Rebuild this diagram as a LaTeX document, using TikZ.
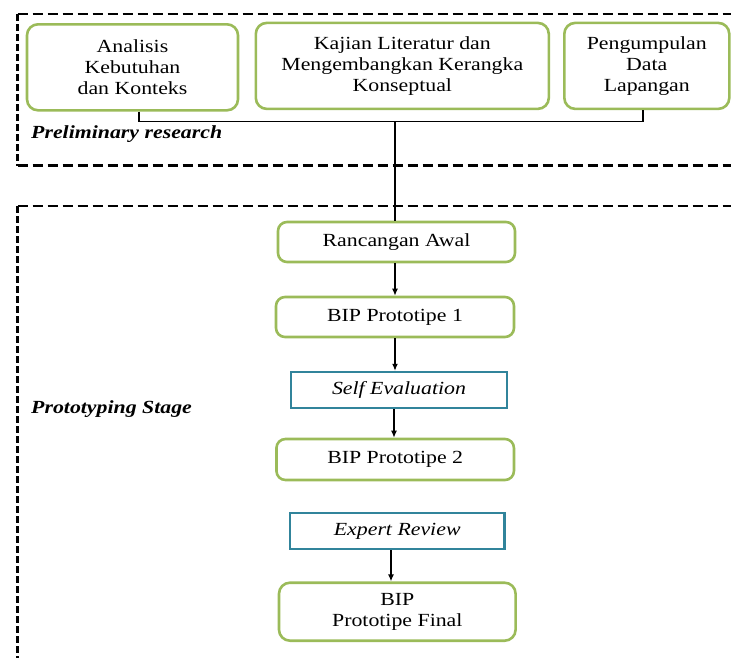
\documentclass[tikz,border=0pt]{standalone}
\usepackage{fontspec}
\setmainfont{Liberation Serif}[FakeStretch=1.18]
\usetikzlibrary{arrows.meta}
\definecolor{boxgreen}{HTML}{9BBB59}
\definecolor{boxblue}{HTML}{31849B}
\tikzset{
  txt/.style={font=\fontsize{18.5}{21.3}\selectfont, align=center, inner sep=0pt},
  gbox/.style={txt, draw=boxgreen, line width=2.6pt, rounded corners=11pt},
  bbox/.style={txt, draw=boxblue, line width=2.4pt, font=\fontsize{18.5}{21.3}\selectfont\itshape},
  label/.style={font=\fontsize{18.5}{21.3}\selectfont\bfseries\itshape, inner sep=0pt, anchor=west},
  conn/.style={line width=1.3pt, black},
  arr/.style={conn, -{Latex[length=7pt,width=6pt]}},
  frameh/.style={line width=2.6pt, dash pattern=on 10pt off 5pt},
  framev/.style={line width=2.6pt, dash pattern=on 6.5pt off 3.5pt},
}
\begin{document}
\begin{tikzpicture}[x=1pt,y=-1pt]
\useasboundingbox (0,0) rectangle (731,657);
\clip (0,0) rectangle (731,657);
% dashed frames
\draw[frameh] (17.5,14) -- (740,14);
\draw[frameh] (17.5,165.5) -- (740,165.5);
\draw[framev] (17.5,14) -- (17.5,165.5);
\draw[frameh] (17.7,206) -- (740,206);
\draw[framev] (17.7,206) -- (17.7,670);
% preliminary boxes
\node[gbox, minimum width=211pt, minimum height=86pt] (b1) at (132.5,67.3) {Analisis\\Kebutuhan\\dan Konteks};
\node[gbox, minimum width=293pt, minimum height=86pt] (b2) at (402.3,65.9) {Kajian Literatur dan\\Mengembangkan Kerangka\\Konseptual};
\node[gbox, minimum width=165pt, minimum height=86pt] (b3) at (646.8,65.9) {Pengumpulan\\Data\\Lapangan};
\node[label] (lp) at (31,134) {Preliminary research};
% prototyping stage
\node[gbox, minimum width=237pt, minimum height=40pt, rounded corners=9pt] (ra) at (396.5,242) {Rancangan Awal};
\node[gbox, minimum width=238pt, minimum height=40pt, rounded corners=9pt] (p1) at (395,317) {BIP Prototipe 1};
\node[bbox, minimum width=216pt, minimum height=36pt] (se) at (399,390) {Self Evaluation};
\node[gbox, minimum width=237.5pt, minimum height=41pt, rounded corners=9pt] (p2) at (395.2,459.5) {BIP Prototipe 2};
\node[bbox, minimum width=214.5pt, minimum height=36pt] (er) at (397.2,531) {Expert Review};
\node[gbox, minimum width=236.6pt, minimum height=58pt, rounded corners=11pt] (pf) at (397.3,611.7) {BIP\\Prototipe Final};
\node[label] (lps) at (31,409) {Prototyping Stage};
% bracket connector
\coordinate (bl) at (139,121.5);
\coordinate (br) at (643,121.5);
\coordinate (bm) at (395,121.5);
\draw[conn] (b1.south -| bl) -- (bl) -- (br) -- (b3.south -| br);
\draw[conn] (bm) -- (ra.north -| bm);
% arrows
\coordinate (ax) at (395,0);
\coordinate (ay) at (394,0);
\coordinate (az) at (391,0);
\draw[arr] (ra.south -| ax) -- (p1.north -| ax);
\draw[arr] (p1.south -| ax) -- (se.north -| ax);
\draw[arr] (se.south -| ay) -- (p2.north -| ay);
\draw[arr] (er.south -| az) -- (pf.north -| az);
\end{tikzpicture}
\end{document}
